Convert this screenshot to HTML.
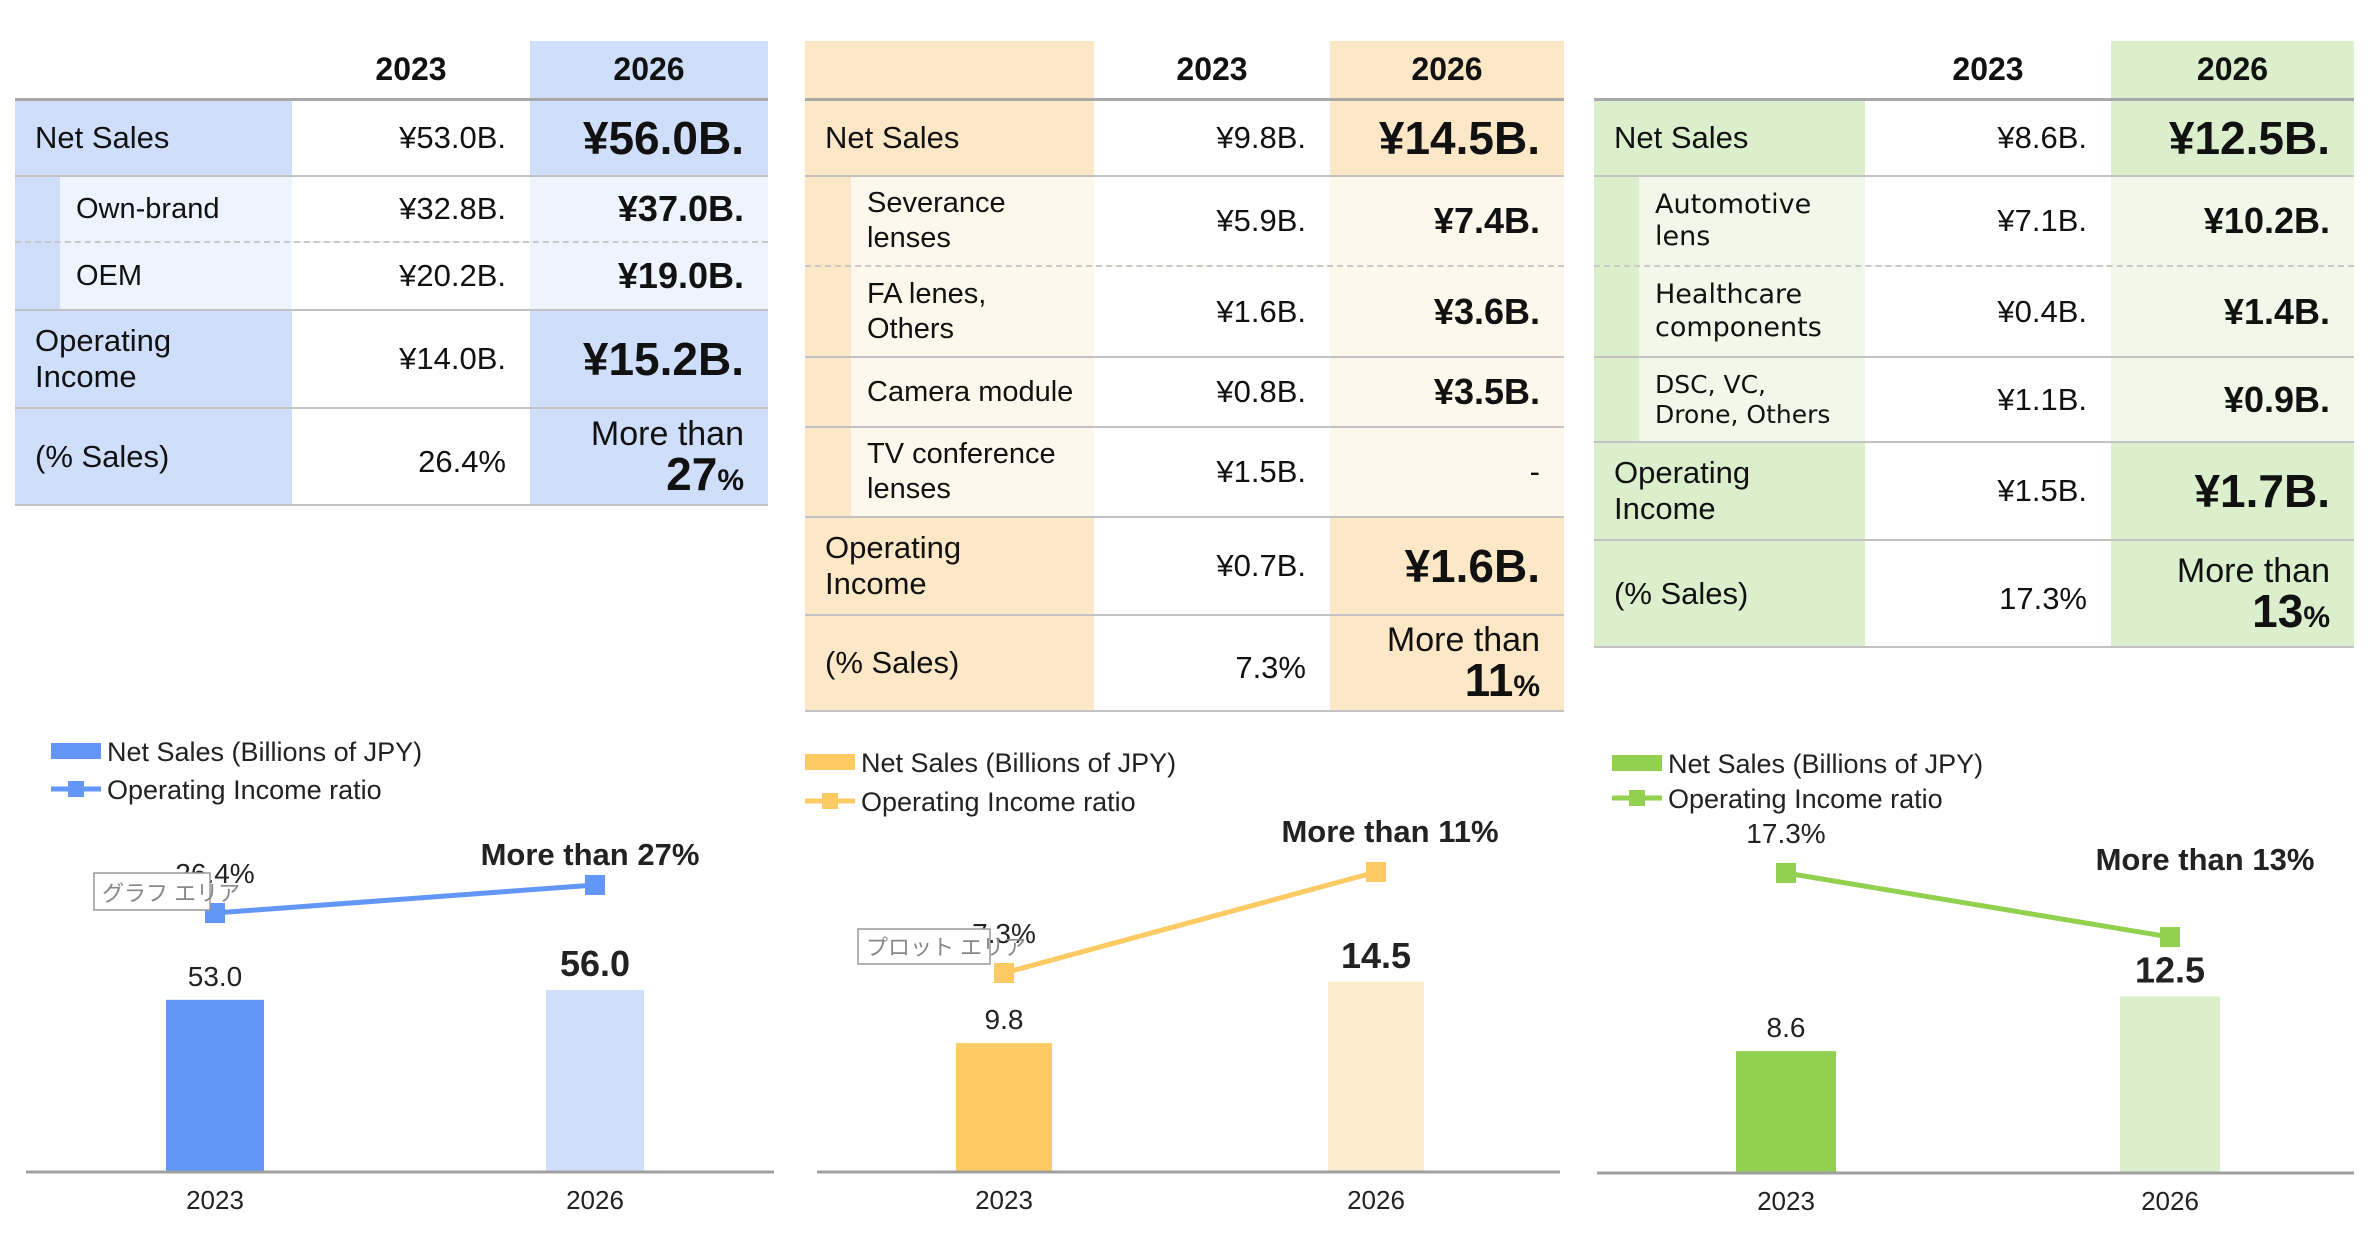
<!DOCTYPE html>
<html><head><meta charset="utf-8">
<style>
*{margin:0;padding:0;box-sizing:border-box}
body{width:2369px;height:1233px;background:#fff;position:relative;overflow:hidden;font-family:"Liberation Sans","Noto Sans CJK JP",sans-serif;color:#111}
.tbl{position:absolute;top:41px}
.row{display:flex;border-bottom:2px solid #c2c2c2;position:relative}
.row.dash{border-bottom:2px dashed #c8c8c8}
.cell{height:100%;display:flex;align-items:center;font-size:31px;line-height:1.15}
.lab{padding-left:20px}
.num{justify-content:flex-end;padding-right:24px}
.big{font-weight:bold;font-size:46px}
.mid{font-weight:bold;font-size:36px}
.hdr{justify-content:center;font-weight:bold;font-size:32px}
.hrow{border-bottom:3px solid #a8a8a8}
.sublab{display:flex;height:100%}
.sublab .strip{height:100%}
.sublab .txt{flex:1;display:flex;align-items:center;padding-left:16px;font-size:29px;line-height:1.2}
.more{flex-direction:column;align-items:flex-end;justify-content:center;line-height:1}
.more .m1{font-size:34px}
.more .m2{font-size:46px;font-weight:bold}
.more .m2 small{font-size:30px}
svg{position:absolute;left:0;top:0}
</style></head><body>

<!-- TABLE 1 (blue) -->
<div class="tbl" style="left:15px;width:753px">
 <div class="row hrow" style="height:60px">
  <div class="cell" style="width:277px"></div>
  <div class="cell hdr" style="width:238px">2023</div>
  <div class="cell hdr" style="width:238px;background:#cfdefb">2026</div>
 </div>
 <div class="row" style="height:76px">
  <div class="cell lab" style="width:277px;background:#cfdefb">Net Sales</div>
  <div class="cell num" style="width:238px">¥53.0B.</div>
  <div class="cell num big" style="width:238px;background:#cfdefb">¥56.0B.</div>
 </div>
 <div class="row dash" style="height:66px;background:linear-gradient(90deg,#cfdefb 45px,#eef4fe 45px)">
  <div class="cell" style="width:277px"><div class="sublab" style="width:100%"><div class="strip" style="width:45px"></div><div class="txt">Own-brand</div></div></div>
  <div class="cell num" style="width:238px;background:#fff">¥32.8B.</div>
  <div class="cell num mid" style="width:238px">¥37.0B.</div>
 </div>
 <div class="row" style="height:68px;background:linear-gradient(90deg,#cfdefb 45px,#eef4fe 45px)">
  <div class="cell" style="width:277px"><div class="sublab" style="width:100%"><div class="strip" style="width:45px"></div><div class="txt">OEM</div></div></div>
  <div class="cell num" style="width:238px;background:#fff">¥20.2B.</div>
  <div class="cell num mid" style="width:238px">¥19.0B.</div>
 </div>
 <div class="row" style="height:98px">
  <div class="cell lab" style="width:277px;background:#cfdefb">Operating<br>Income</div>
  <div class="cell num" style="width:238px">¥14.0B.</div>
  <div class="cell num big" style="width:238px;background:#cfdefb">¥15.2B.</div>
 </div>
 <div class="row" style="height:97px">
  <div class="cell lab" style="width:277px;background:#cfdefb">(% Sales)</div>
  <div class="cell num" style="width:238px;padding-top:10px">26.4%</div>
  <div class="cell num more" style="width:238px;background:#cfdefb"><span class="m1">More than</span><span class="m2">27<small>%</small></span></div>
 </div>
</div>

<!-- TABLE 2 (orange) -->
<div class="tbl" style="left:805px;width:759px">
 <div class="row hrow" style="height:60px">
  <div class="cell" style="width:289px;background:#fce8c6"></div>
  <div class="cell hdr" style="width:236px">2023</div>
  <div class="cell hdr" style="width:234px;background:#fce8c6">2026</div>
 </div>
 <div class="row" style="height:76px">
  <div class="cell lab" style="width:289px;background:#fce8c6">Net Sales</div>
  <div class="cell num" style="width:236px">¥9.8B.</div>
  <div class="cell num big" style="width:234px;background:#fce8c6">¥14.5B.</div>
 </div>
 <div class="row dash" style="height:90px;background:linear-gradient(90deg,#fce8c6 46px,#fef8ec 46px)">
  <div class="cell" style="width:289px"><div class="sublab" style="width:100%"><div class="strip" style="width:46px"></div><div class="txt">Severance<br>lenses</div></div></div>
  <div class="cell num" style="width:236px;background:#fff">¥5.9B.</div>
  <div class="cell num mid" style="width:234px">¥7.4B.</div>
 </div>
 <div class="row" style="height:91px;background:linear-gradient(90deg,#fce8c6 46px,#fef8ec 46px)">
  <div class="cell" style="width:289px"><div class="sublab" style="width:100%"><div class="strip" style="width:46px"></div><div class="txt">FA lenes,<br>Others</div></div></div>
  <div class="cell num" style="width:236px;background:#fff">¥1.6B.</div>
  <div class="cell num mid" style="width:234px">¥3.6B.</div>
 </div>
 <div class="row" style="height:70px;background:linear-gradient(90deg,#fce8c6 46px,#fef8ec 46px)">
  <div class="cell" style="width:289px"><div class="sublab" style="width:100%"><div class="strip" style="width:46px"></div><div class="txt">Camera module</div></div></div>
  <div class="cell num" style="width:236px;background:#fff">¥0.8B.</div>
  <div class="cell num mid" style="width:234px">¥3.5B.</div>
 </div>
 <div class="row" style="height:90px;background:linear-gradient(90deg,#fce8c6 46px,#fef8ec 46px)">
  <div class="cell" style="width:289px"><div class="sublab" style="width:100%"><div class="strip" style="width:46px"></div><div class="txt">TV conference<br>lenses</div></div></div>
  <div class="cell num" style="width:236px;background:#fff">¥1.5B.</div>
  <div class="cell num" style="width:234px">-</div>
 </div>
 <div class="row" style="height:98px">
  <div class="cell lab" style="width:289px;background:#fce8c6">Operating<br>Income</div>
  <div class="cell num" style="width:236px">¥0.7B.</div>
  <div class="cell num big" style="width:234px;background:#fce8c6">¥1.6B.</div>
 </div>
 <div class="row" style="height:96px">
  <div class="cell lab" style="width:289px;background:#fce8c6">(% Sales)</div>
  <div class="cell num" style="width:236px;padding-top:10px">7.3%</div>
  <div class="cell num more" style="width:234px;background:#fce8c6"><span class="m1">More than</span><span class="m2">11<small>%</small></span></div>
 </div>
</div>

<!-- TABLE 3 (green) -->
<div class="tbl" style="left:1594px;width:760px">
 <div class="row hrow" style="height:60px">
  <div class="cell" style="width:271px"></div>
  <div class="cell hdr" style="width:246px">2023</div>
  <div class="cell hdr" style="width:243px;background:#dcefcd">2026</div>
 </div>
 <div class="row" style="height:76px">
  <div class="cell lab" style="width:271px;background:#dcefcd">Net Sales</div>
  <div class="cell num" style="width:246px">¥8.6B.</div>
  <div class="cell num big" style="width:243px;background:#dcefcd">¥12.5B.</div>
 </div>
 <div class="row dash" style="height:90px;background:linear-gradient(90deg,#dcefcd 45px,#f1f8ea 45px)">
  <div class="cell" style="width:271px"><div class="sublab" style="width:100%"><div class="strip" style="width:45px"></div><div class="txt" style="font-family:'DejaVu Sans',sans-serif;font-size:27px">Automotive<br>lens</div></div></div>
  <div class="cell num" style="width:246px;background:#fff">¥7.1B.</div>
  <div class="cell num mid" style="width:243px">¥10.2B.</div>
 </div>
 <div class="row" style="height:91px;background:linear-gradient(90deg,#dcefcd 45px,#f1f8ea 45px)">
  <div class="cell" style="width:271px"><div class="sublab" style="width:100%"><div class="strip" style="width:45px"></div><div class="txt" style="font-family:'DejaVu Sans',sans-serif;font-size:27px">Healthcare<br>components</div></div></div>
  <div class="cell num" style="width:246px;background:#fff">¥0.4B.</div>
  <div class="cell num mid" style="width:243px">¥1.4B.</div>
 </div>
 <div class="row" style="height:85px;background:linear-gradient(90deg,#dcefcd 45px,#f1f8ea 45px)">
  <div class="cell" style="width:271px"><div class="sublab" style="width:100%"><div class="strip" style="width:45px"></div><div class="txt" style="font-family:'DejaVu Sans',sans-serif;font-size:25px">DSC, VC,<br>Drone, Others</div></div></div>
  <div class="cell num" style="width:246px;background:#fff">¥1.1B.</div>
  <div class="cell num mid" style="width:243px">¥0.9B.</div>
 </div>
 <div class="row" style="height:98px">
  <div class="cell lab" style="width:271px;background:#dcefcd">Operating<br>Income</div>
  <div class="cell num" style="width:246px">¥1.5B.</div>
  <div class="cell num big" style="width:243px;background:#dcefcd">¥1.7B.</div>
 </div>
 <div class="row" style="height:107px">
  <div class="cell lab" style="width:271px;background:#dcefcd">(% Sales)</div>
  <div class="cell num" style="width:246px;padding-top:10px">17.3%</div>
  <div class="cell num more" style="width:243px;background:#dcefcd"><span class="m1">More than</span><span class="m2">13<small>%</small></span></div>
 </div>
</div>

<svg id="charts" width="2369" height="1233" font-family="Liberation Sans, Noto Sans CJK JP, sans-serif"></svg>

<script>
const years = ["2023", "2026"];
const sales1 = [53.0, 56.0];
const ratio1 = [26.4, 27];
const salesLabels1 = ["53.0", "56.0"];
const ratioLabels1 = ["26.4%", "More than 27%"];
const sales2 = [9.8, 14.5];
const ratio2 = [7.3, 11];
const salesLabels2 = ["9.8", "14.5"];
const ratioLabels2 = ["7.3%", "More than 11%"];
const sales3 = [8.6, 12.5];
const ratio3 = [17.3, 13];
const salesLabels3 = ["8.6", "12.5"];
const ratioLabels3 = ["17.3%", "More than 13%"];

const NS = "http://www.w3.org/2000/svg";
const svg = document.getElementById("charts");
function mk(tag, attrs, parent) {
  const e = document.createElementNS(NS, tag);
  for (const k in attrs) e.setAttribute(k, attrs[k]);
  (parent || svg).appendChild(e);
  return e;
}

const cfgs = [
  {sales: sales1, ratio: ratio1, sl: salesLabels1, rl: ratioLabels1, x0: 26, x1: 774, xs: [215, 595], bw: 98,
   base: 1171, k: 3.23, rRef: 26.4, rY: 913, rk: 46.7, c1: "#6397f7", c2: "#cfdffb",
   legX: 51, legY: 751, legY2: 789, tip: [94, 873, 116, 37, "グラフ エリア"], lab0: [0, 30], lab1: [-5, 20]},
  {sales: sales2, ratio: ratio2, sl: salesLabels2, rl: ratioLabels2, x0: 817, x1: 1560, xs: [1004, 1376], bw: 96,
   base: 1171, k: 13.05, rRef: 7.3, rY: 973, rk: 27.3, c1: "#fdca64", c2: "#fdeccd",
   legX: 805, legY: 762, legY2: 801, tip: [858, 929, 132, 35, "プロット エリア"], lab0: [0, 30], lab1: [14, 30]},
  {sales: sales3, ratio: ratio3, sl: salesLabels3, rl: ratioLabels3, x0: 1597, x1: 2354, xs: [1786, 2170], bw: 100,
   base: 1172, k: 14.05, rRef: 17.3, rY: 873, rk: 14.9, c1: "#92d050", c2: "#dcefcd",
   legX: 1612, legY: 763, legY2: 798, tip: null, lab0: [0, 30], lab1: [35, 67]}
];

cfgs.forEach((c, ci) => {
  const yBar = v => c.base - v * c.k;
  const yLine = v => c.rY - (v - c.rRef) * c.rk;
  const g = mk("g", {});
  
  
  const l1 = mk("rect", {x: c.legX, y: c.legY - 8, width: 50, height: 16, fill: c.c1}, g);
  
  
  const lt1 = mk("text", {x: c.legX + 56, y: c.legY + 10, "font-size": 27, fill: "#222"}, g);
  
  
  lt1.textContent = "Net Sales (Billions of JPY)";
  const l2 = mk("line", {x1: c.legX, x2: c.legX + 50, y1: c.legY2, y2: c.legY2, stroke: c.c1, "stroke-width": 5}, g);
  
  
  mk("rect", {x: c.legX + 17, y: c.legY2 - 8, width: 16, height: 16, fill: c.c1}, g);
  const lt2 = mk("text", {x: c.legX + 56, y: c.legY2 + 10, "font-size": 27, fill: "#222"}, g);
  
  
  lt2.textContent = "Operating Income ratio";
  c.sales.forEach((v, i) => {
    const b = mk("rect", {x: c.xs[i] - c.bw / 2, y: yBar(v), width: c.bw, height: v * c.k, fill: i === 0 ? c.c1 : c.c2}, g);
    
    
    const t = mk("text", {x: c.xs[i], y: yBar(v) - 14, "text-anchor": "middle", "font-size": i === 0 ? 28 : 36, "font-weight": i === 0 ? "normal" : "bold", fill: "#222"}, g);
    
    
    t.textContent = c.sl[i];
    const xl = mk("text", {x: c.xs[i], y: c.base + 38, "text-anchor": "middle", "font-size": 26, fill: "#222"}, g);
    
    
    xl.textContent = years[i];
  });
  const ax = mk("line", {x1: c.x0, x2: c.x1, y1: c.base + 1, y2: c.base + 1, stroke: "#a0a0a0", "stroke-width": 3}, g);
  
  
  const pts = c.ratio.map((v, i) => c.xs[i] + "," + yLine(v)).join(" ");
  const pl = mk("polyline", {points: pts, fill: "none", stroke: c.c1, "stroke-width": 5}, g);
  
  
  c.ratio.forEach((v, i) => {
    const m = mk("rect", {x: c.xs[i] - 10, y: yLine(v) - 10, width: 20, height: 20, fill: c.c1}, g);
    
    
    const off = i === 0 ? c.lab0 : c.lab1;
    const t = mk("text", {x: c.xs[i] + off[0], y: yLine(v) - off[1], "text-anchor": "middle", "font-size": i === 0 ? 28 : 31, "font-weight": i === 0 ? "normal" : "bold", fill: "#222"}, g);
    
    
    t.textContent = c.rl[i];
  });
  if (c.tip) {
    const tb = mk("rect", {x: c.tip[0], y: c.tip[1], width: c.tip[2], height: c.tip[3], fill: "#fff", stroke: "#999", "stroke-width": 1.5}, g);
    
    
    const tt = mk("text", {x: c.tip[0] + 8, y: c.tip[1] + c.tip[3] - 9, "font-size": 22, fill: "#888"}, g);
    
    
    tt.textContent = c.tip[4];
  }
});
</script>
</body></html>
